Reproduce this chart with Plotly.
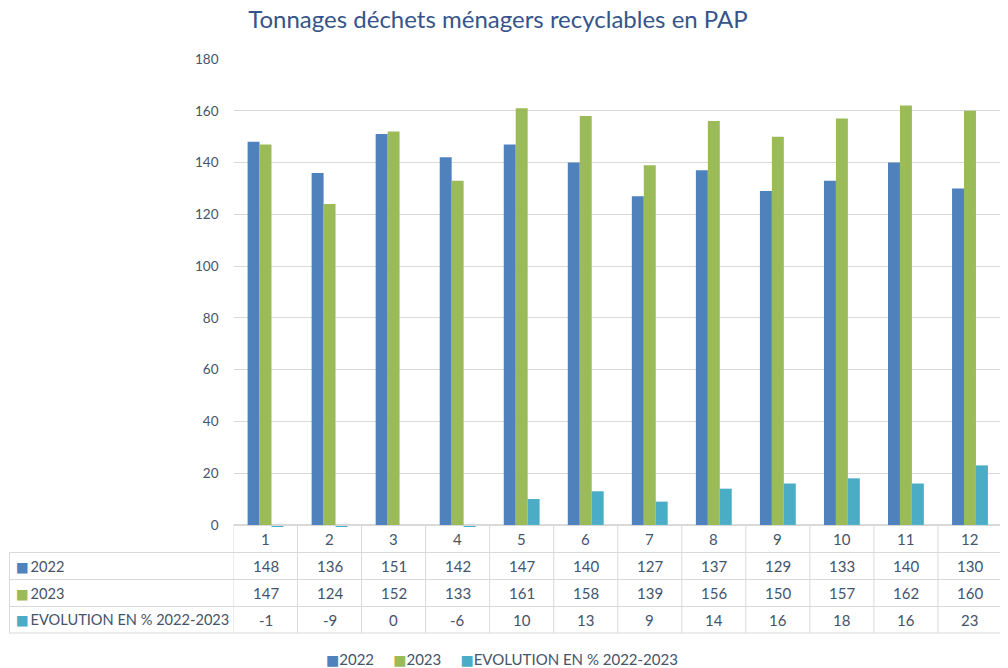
import plotly.graph_objects as go

categories = [str(i) for i in range(1, 13)]
tonnage_2022 = [148, 136, 151, 142, 147, 140, 127, 137, 129, 133, 140, 130]
tonnage_2023 = [147, 124, 152, 133, 161, 158, 139, 156, 150, 157, 162, 160]
evolution_pct = [-1, -9, 0, -6, 10, 13, 9, 14, 16, 18, 16, 23]
series_names = ["2022", "2023", "EVOLUTION EN % 2022-2023"]
series_colors = ["#4F81BD", "#9BBB59", "#4BACC6"]
y_ticks = [0, 20, 40, 60, 80, 100, 120, 140, 160, 180]

TXT = "#44546A"
GRID = "#D9D9D9"
FONT = "Lato, 'Open Sans', sans-serif"
OFF = 8                      # page body margin offset
W, H = 1000, 660


def fx(p):
    return (p - OFF) / W


def fy(p):
    return (H - (p - OFF)) / H


def square(col, size):
    return f"<span style='color:{col};font-family:DejaVu Sans;font-size:{size}px'>■</span>"


fig = go.Figure()
for name, vals, col in zip(series_names, [tonnage_2022, tonnage_2023, evolution_pct], series_colors):
    fig.add_trace(go.Bar(x=categories, y=vals, name=name, marker_color=col,
                         marker_line_width=0, showlegend=False))

# ---- data table (lines + texts) ----
TBL_L, LAB_R, TBL_R = 9.5, 233.5, 1002
row_edges = [525.5, 552.5, 579.5, 606.5, 633]
shapes = []
for k, yy in enumerate(row_edges):
    x0 = fx(LAB_R) if k == 0 else fx(TBL_L)
    shapes.append(dict(type="line", xref="paper", yref="paper", x0=x0, x1=fx(TBL_R),
                       y0=fy(yy), y1=fy(yy), line=dict(color=GRID, width=1)))
shapes.append(dict(type="line", xref="paper", yref="paper", x0=fx(TBL_L), x1=fx(TBL_L),
                   y0=fy(row_edges[1]), y1=fy(row_edges[-1]), line=dict(color=GRID, width=1)))
for i in range(len(categories) + 1):
    shapes.append(dict(type="line", xref="x", yref="paper", x0=i - 0.5, x1=i - 0.5,
                       y0=fy(row_edges[0]), y1=fy(row_edges[-1]), line=dict(color=GRID, width=1)))

annotations = []
row_centers = [(row_edges[k] + row_edges[k + 1]) / 2 for k in range(4)]
tfont = dict(family=FONT, size=15, color=TXT)
for i, cat in enumerate(categories):
    annotations.append(dict(x=i, xref="x", y=fy(row_centers[0]), yref="paper", text=cat,
                            showarrow=False, font=tfont, xanchor="center", yanchor="middle"))
for r, (vals, name, col) in enumerate(zip([tonnage_2022, tonnage_2023, evolution_pct],
                                           series_names, series_colors)):
    yc = fy(row_centers[r + 1])
    for i, v in enumerate(vals):
        annotations.append(dict(x=i, xref="x", y=yc, yref="paper", text=str(v),
                                showarrow=False, font=tfont, xanchor="center", yanchor="middle"))
    annotations.append(dict(x=fx(14), xref="paper", y=yc, yref="paper",
                            text=square(col, 13.5) + "\u2009" + name,
                            showarrow=False, font=dict(family=FONT, size=14.6, color=TXT),
                            xanchor="left", yanchor="middle"))

# ---- legend (bottom) ----
legend_txt = "\u00a0\u00a0\u00a0\u00a0\u00a0".join(
    square(c, 14) + n for n, c in zip(series_names, series_colors))
annotations.append(dict(x=fx(502), xref="paper", y=fy(659), yref="paper", text=legend_txt,
                        showarrow=False, font=dict(family=FONT, size=15, color=TXT),
                        xanchor="center", yanchor="middle"))

fig.update_layout(
    width=W, height=H,
    margin=dict(l=0, r=0, t=0, b=0, autoexpand=False),
    paper_bgcolor="white", plot_bgcolor="white",
    barmode="group", bargap=0.44, bargroupgap=0,
    title=dict(text="Tonnages déchets ménagers recyclables en PAP",
               x=fx(498), xanchor="center", y=fy(20), yanchor="middle", automargin=False,
               font=dict(family=FONT, size=24, color="#35558A")),
    xaxis=dict(domain=[fx(LAB_R), fx(TBL_R)], type="category", range=[-0.5, 11.5],
               showticklabels=False, showgrid=False, zeroline=False, showline=False,
               automargin=False),
    yaxis=dict(domain=[fy(527), fy(59)], range=[-0.8, 180],
               tickvals=y_ticks, showgrid=True, gridcolor=GRID, gridwidth=1,
               zeroline=False, showline=False, ticklabelstandoff=14, automargin=False,
               tickfont=dict(family=FONT, size=13.5, color=TXT)),
    shapes=shapes,
    annotations=annotations,
    font=dict(family=FONT, color=TXT),
)

fig.write_html("out.html")
